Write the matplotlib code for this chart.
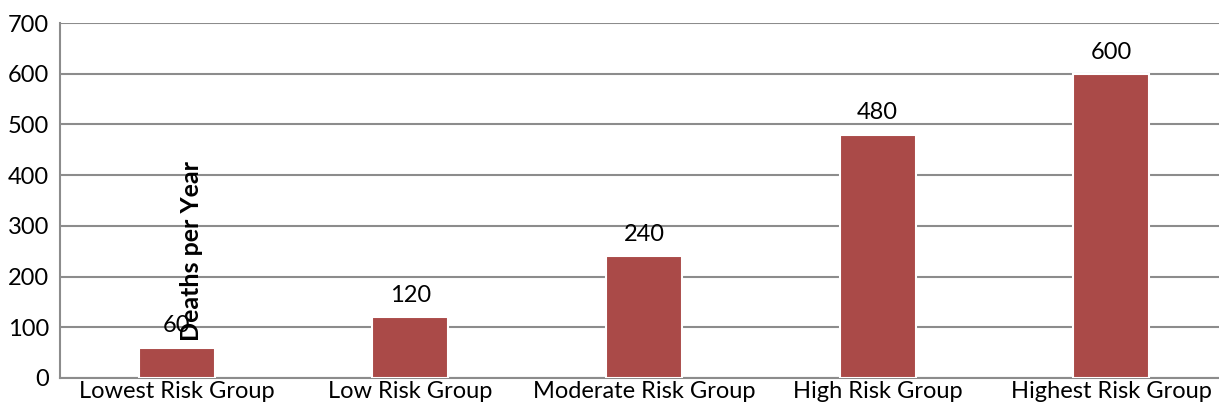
import matplotlib
matplotlib.use("Agg")
import matplotlib.pyplot as plt

plt.rcParams['font.family'] = ['Lato', 'DejaVu Sans']

categories = ["Lowest Risk Group", "Low Risk Group", "Moderate Risk Group",
              "High Risk Group", "Highest Risk Group"]
deaths = [60, 120, 240, 480, 600]
y_ticks = [0, 100, 200, 300, 400, 500, 600, 700]

FS = 17

fig = plt.figure(figsize=(12.19, 4.09), dpi=100)
ax = fig.add_axes([60 / 1219, 31 / 409, 1168 / 1219, 355 / 409])

x = range(len(categories))
bars = ax.bar(x, deaths, width=0.325, color="#AA4A48", edgecolor="white",
              linewidth=1.5, zorder=3)

for b, v in zip(bars, deaths):
    ax.annotate(str(v), (b.get_x() + b.get_width() / 2, v),
                xytext=(0, 8), textcoords="offset points",
                ha="center", va="bottom", fontsize=FS, color="black")

ax.set_xlim(-0.5, len(categories) - 0.5)
ax.set_ylim(0, 700)
ax.set_yticks(y_ticks)
ax.set_xticks(list(x))
ax.set_xticklabels(categories)
ax.tick_params(axis="both", length=0, labelsize=FS, colors="black")
ax.tick_params(axis="y", pad=8)
ax.tick_params(axis="x", pad=2)

ax.grid(axis="y", color="#8c8c8c", linewidth=1.5, zorder=0)
ax.set_axisbelow(True)
for s in ["top", "right"]:
    ax.spines[s].set_visible(False)
ax.spines["left"].set_color("#8c8c8c")
ax.spines["left"].set_linewidth(1.5)
ax.spines["bottom"].set_color("#8c8c8c")
ax.spines["bottom"].set_linewidth(1.5)

ax.set_ylabel("Deaths per Year", fontsize=18, fontweight="bold")
ax.yaxis.set_label_coords(0.1224, 0.358)

fig.savefig("out.png", dpi=100)
